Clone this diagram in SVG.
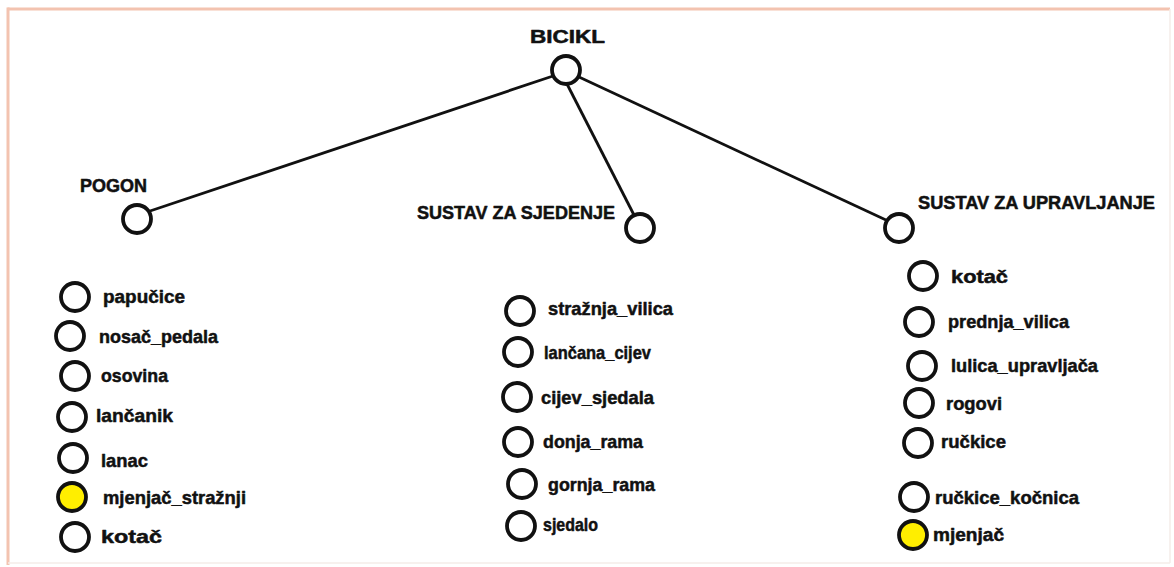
<svg xmlns="http://www.w3.org/2000/svg" width="1174" height="567" viewBox="0 0 1174 567">
<style>
.t{font-family:"Liberation Sans",Arial,sans-serif;font-weight:bold;font-size:18.5px;fill:#111;stroke:#111;stroke-width:0.5px;stroke-linejoin:round;dominant-baseline:central}
.h{font-size:17.5px}
.n{fill:none;stroke:#111;stroke-width:3.8}
.y{fill:#ffee00;stroke:#111;stroke-width:3.8}
.c{stroke:#111;stroke-width:2.8;fill:none}
</style>
<rect x="0" y="0" width="1174" height="567" fill="#fff"/>
<g id="border">
<line x1="7.5" y1="9" x2="1170" y2="9" stroke="#f3c3b0" stroke-width="3"/>
<line x1="8" y1="7.5" x2="8" y2="565" stroke="#f3c3b0" stroke-width="3"/>
<line x1="1170" y1="9" x2="1170" y2="563" stroke="#f4ece8" stroke-width="1.5"/>
<line x1="8" y1="563" x2="1170" y2="563" stroke="#f4ece8" stroke-width="1.5"/>
</g>
<g id="connectors">
<line class="c" x1="553" y1="76" x2="150" y2="211"/>
<line class="c" x1="567" y1="84" x2="634" y2="215"/>
<line class="c" x1="579" y1="77" x2="886" y2="220"/>
</g>
<g id="bicikl"><circle class="n" cx="566" cy="70" r="14"/><text class="t h" x="530" y="37" textLength="75" lengthAdjust="spacingAndGlyphs">BICIKL</text></g>
<g id="pogon"><circle class="n" cx="137" cy="219" r="14"/><text class="t h" x="80" y="186" textLength="67" lengthAdjust="spacingAndGlyphs">POGON</text></g>
<g id="sjedenje"><circle class="n" cx="640" cy="228" r="14"/><text class="t h" x="417" y="213" textLength="198" lengthAdjust="spacingAndGlyphs">SUSTAV ZA SJEDENJE</text></g>
<g id="upravljanje"><circle class="n" cx="899" cy="228" r="14"/><text class="t h" x="918" y="203" textLength="237" lengthAdjust="spacingAndGlyphs">SUSTAV ZA UPRAVLJANJE</text></g>

<g id="papucice"><circle class="n" cx="75" cy="297" r="14"/><text class="t" x="103" y="296" textLength="82" lengthAdjust="spacingAndGlyphs">papučice</text></g>
<g id="nosac_pedala"><circle class="n" cx="70" cy="336" r="14"/><text class="t" x="99" y="336" textLength="119" lengthAdjust="spacingAndGlyphs">nosač_pedala</text></g>
<g id="osovina"><circle class="n" cx="75" cy="376" r="14"/><text class="t" x="101" y="375" textLength="67" lengthAdjust="spacingAndGlyphs">osovina</text></g>
<g id="lancanik"><circle class="n" cx="72" cy="417" r="14"/><text class="t" x="96" y="415" textLength="77" lengthAdjust="spacingAndGlyphs">lančanik</text></g>
<g id="lanac"><circle class="n" cx="73" cy="458" r="14"/><text class="t" x="101" y="460" textLength="47" lengthAdjust="spacingAndGlyphs">lanac</text></g>
<g id="mjenjac_straznji"><circle class="y" cx="72" cy="497" r="14"/><text class="t" x="103" y="497" textLength="143" lengthAdjust="spacingAndGlyphs">mjenjač_stražnji</text></g>
<g id="kotac_l"><circle class="n" cx="75" cy="537" r="14"/><text class="t" x="101" y="536" textLength="61" lengthAdjust="spacingAndGlyphs">kotač</text></g>

<g id="straznja_vilica"><circle class="n" cx="520" cy="311" r="14"/><text class="t" x="548" y="308" textLength="125" lengthAdjust="spacingAndGlyphs">stražnja_vilica</text></g>
<g id="lancana_cijev"><circle class="n" cx="518" cy="352" r="14"/><text class="t" x="544" y="352" textLength="107" lengthAdjust="spacingAndGlyphs">lančana_cijev</text></g>
<g id="cijev_sjedala"><circle class="n" cx="517" cy="397" r="14"/><text class="t" x="541" y="397" textLength="113" lengthAdjust="spacingAndGlyphs">cijev_sjedala</text></g>
<g id="donja_rama"><circle class="n" cx="518" cy="442" r="14"/><text class="t" x="543" y="441" textLength="100" lengthAdjust="spacingAndGlyphs">donja_rama</text></g>
<g id="gornja_rama"><circle class="n" cx="522" cy="484" r="14"/><text class="t" x="548" y="484" textLength="107" lengthAdjust="spacingAndGlyphs">gornja_rama</text></g>
<g id="sjedalo"><circle class="n" cx="521" cy="526" r="14"/><text class="t" x="543" y="524" textLength="55" lengthAdjust="spacingAndGlyphs">sjedalo</text></g>

<g id="kotac_r"><circle class="n" cx="923" cy="276" r="14"/><text class="t" x="951" y="276" textLength="57" lengthAdjust="spacingAndGlyphs">kotač</text></g>
<g id="prednja_vilica"><circle class="n" cx="919" cy="322" r="14"/><text class="t" x="948" y="321" textLength="121" lengthAdjust="spacingAndGlyphs">prednja_vilica</text></g>
<g id="lulica_upravljaca"><circle class="n" cx="922" cy="366" r="14"/><text class="t" x="951" y="365" textLength="147" lengthAdjust="spacingAndGlyphs">lulica_upravljača</text></g>
<g id="rogovi"><circle class="n" cx="919" cy="403" r="14"/><text class="t" x="946" y="403" textLength="56" lengthAdjust="spacingAndGlyphs">rogovi</text></g>
<g id="ruckice"><circle class="n" cx="918" cy="443" r="14"/><text class="t" x="941" y="441" textLength="65" lengthAdjust="spacingAndGlyphs">ručkice</text></g>
<g id="ruckice_kocnica"><circle class="n" cx="914" cy="497" r="14"/><text class="t" x="935" y="497" textLength="144" lengthAdjust="spacingAndGlyphs">ručkice_kočnica</text></g>
<g id="mjenjac"><circle class="y" cx="913" cy="535" r="14"/><text class="t" x="933" y="534" textLength="71" lengthAdjust="spacingAndGlyphs">mjenjač</text></g>
</svg>
